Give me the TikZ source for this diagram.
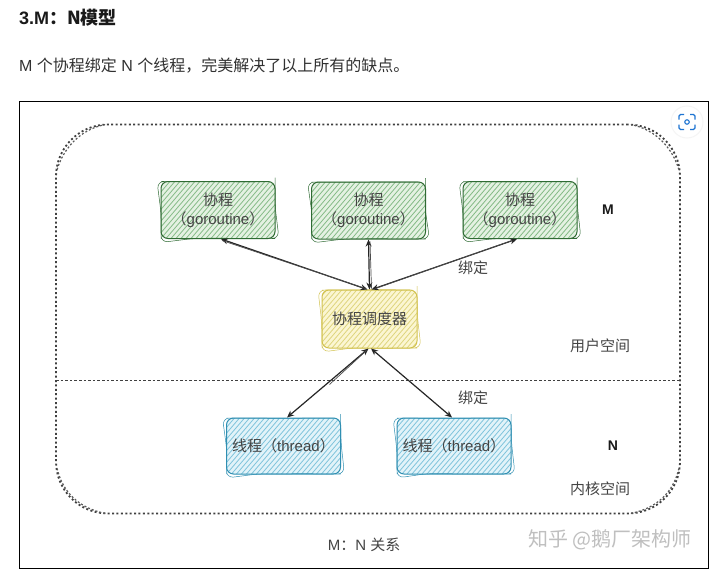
\documentclass[tikz,border=0pt]{standalone}
\usepackage{fontspec}
\setmainfont{Liberation Sans}
\newfontfamily\cjk{Noto Sans CJK SC}
\usetikzlibrary{arrows.meta,calc,decorations.pathmorphing}
\definecolor{txt}{HTML}{444444}
\definecolor{head}{HTML}{1A1A1A}
\definecolor{grnD}{HTML}{2F6B33}
\definecolor{grnF}{HTML}{E4F1E2}
\definecolor{grnH}{HTML}{84BA86}
\definecolor{yelD}{HTML}{D2C24E}
\definecolor{yelF}{HTML}{FBF6D2}
\definecolor{yelH}{HTML}{DFD57E}
\definecolor{bluD}{HTML}{2F8FB2}
\definecolor{bluF}{HTML}{E2F3F9}
\definecolor{bluH}{HTML}{80C4DC}
\definecolor{iconblue}{HTML}{1E74D2}
\tikzset{
  x=1pt,y=-1pt,
  sketchbox/.style n args={3}{
    draw=#1, fill=#2, line width=1pt, rounded corners=7pt, inner sep=0pt,
    text=txt, font=\fontsize{15}{19}\selectfont, align=center,
    path picture={
      \foreach \i in {-70,-65,...,130}
        \draw[#3,line width=.8pt]
          ([xshift=\i pt]path picture bounding box.south west) -- ++(60,-70);
    },
    postaction={draw=#1,line width=.5pt,decorate,
      decoration={random steps,segment length=24pt,amplitude=.5pt}}
  },
  greenbox/.style={sketchbox={grnD}{grnF}{grnH},minimum width=114pt,minimum height=57pt},
  bluebox/.style={sketchbox={bluD}{bluF}{bluH},minimum width=114pt,minimum height=56pt},
  yellowbox/.style={sketchbox={yelD}{yelF}{yelH},minimum width=95pt,minimum height=58pt},
  label/.style={text=txt,font=\fontsize{15}{17}\selectfont,inner sep=0pt},
  bigm/.style={text=head,font=\fontsize{14}{16}\selectfont\bfseries,inner sep=0pt},
  link/.style={<->,>={Stealth[length=7pt,width=6pt]},line width=1.2pt,draw=black!85},
  linkb/.style={line width=.7pt,draw=black!70},
  dotline/.style={line width=1.8pt,dash pattern=on 2pt off 2.4pt},
  dotthin/.style={line width=1.2pt,draw=black!65,dash pattern=on 2pt off 2pt},
}
\begin{document}
\begin{tikzpicture}
\useasboundingbox (0,0) rectangle (727,583);
\fill[white] (0,0) rectangle (727,583);

% page text
\node[anchor=west,inner sep=0pt,text=head,font=\fontsize{18}{20}\selectfont\bfseries] (title) at (19,18) {3.M{\cjk ：N模型}};
\node[anchor=west,inner sep=0pt,text=head!90,font=\fontsize{16}{20}\selectfont] (intro) at (19,66) {M {\cjk 个协程绑定} N {\cjk 个线程，完美解决了以上所有的缺点。}};

% frame
\node[draw=black,line width=1.2pt,minimum width=688.5pt,minimum height=467pt,inner sep=0pt] (frame) at (364,335) {};

% dotted outer rounded box
\node[draw=black!75,dotline,rounded corners=52pt,minimum width=624pt,minimum height=389pt,inner sep=0pt] (outer) at (368,319) {};
\draw[dotthin] ($(outer.north west)+(2,46)$) .. controls ($(outer.north west)+(8,26)$) and ($(outer.north west)+(24,6)$) .. ($(outer.north west)+(50,1)$);
\draw[dotthin] ($(outer.north east)+(-2,46)$) .. controls ($(outer.north east)+(-8,26)$) and ($(outer.north east)+(-24,6)$) .. ($(outer.north east)+(-50,1)$);
\draw[dotthin] ($(outer.south west)+(2,-46)$) .. controls ($(outer.south west)+(8,-20)$) and ($(outer.south west)+(26,-6)$) .. ($(outer.south west)+(50,-1)$);
\draw[dotthin] ($(outer.south east)+(-2,-46)$) .. controls ($(outer.south east)+(-8,-20)$) and ($(outer.south east)+(-26,-6)$) .. ($(outer.south east)+(-50,-1)$);

% divider
\coordinate (divL) at (56,380);
\coordinate (divR) at (680,380);
\draw[line width=.8pt,draw=black!75,dash pattern=on 2.6pt off 2pt] (divL) -- (divR);

% boxes
\node[greenbox] (g1) at (218,210) {{\cjk 协程}\\{\cjk （}goroutine{\cjk ）}};
\node[greenbox] (g2) at (368.5,210.5) {{\cjk 协程}\\{\cjk （}goroutine{\cjk ）}};
\node[greenbox] (g3) at (520,210) {{\cjk 协程}\\{\cjk （}goroutine{\cjk ）}};
\node[yellowbox] (sched) at (369.5,319) {\cjk 协程调度器};
\node[bluebox] (t1) at (283.5,446) {{\cjk 线程（}thread{\cjk ）}};
\node[bluebox] (t2) at (454,446) {{\cjk 线程（}thread{\cjk ）}};

% connectors
\draw[link] ([xshift=-2pt]sched.north) -- ([xshift=3pt]g1.south);
\draw[linkb] ([xshift=-4pt,yshift=1pt]sched.north) -- ([xshift=4pt,yshift=-1.5pt]g1.south);
\draw[link] (sched.north) -- (g2.south);
\draw[linkb] ([xshift=2pt,yshift=1pt]sched.north) -- ([xshift=1.5pt,yshift=-2pt]g2.south);
\draw[link] ([xshift=2pt]sched.north) -- ([xshift=-3pt]g3.south);
\draw[linkb] ([xshift=6pt,yshift=1pt]sched.north) -- ([xshift=-8pt,yshift=-1.5pt]g3.south);
\draw[link] ([xshift=-1pt]sched.south) -- ([xshift=3.5pt]t1.north);
\draw[linkb] ([xshift=-3pt,yshift=-2pt]sched.south) -- ([xshift=46pt,yshift=33pt]t1.north);
\draw[link] ([xshift=1.5pt]sched.south) -- ([xshift=-2pt]t2.north);

% labels
\node[bigm] (m) at (608,210) {M};
\node[bigm] (n) at (613,446) {N};
\node[label] (bind1) at (473,268) {\cjk 绑定};
\node[label] (bind2) at (473,398) {\cjk 绑定};
\node[label] (user) at (600,346) {\cjk 用户空间};
\node[label] (kernel) at (600,489) {\cjk 内核空间};
\node[label] (rel) at (364,545) {M{\cjk ：}N {\cjk 关系}};

% watermark
\node[inner sep=0pt,text=black!25,font=\fontsize{20}{22}\selectfont] (mark) at (610,540) {\cjk 知乎 @鹅厂架构师};

% screenshot icon
\node[circle,fill=white,draw=black!4,line width=1pt,minimum size=32pt,inner sep=0pt] (iconbg) at (687,122) {};
\node[circle,draw=iconblue,line width=1.1pt,minimum size=4.5pt,inner sep=0pt] (iconc) at (687,122) {};
\draw[iconblue,line width=1.2pt,rounded corners=1.5pt] ($(iconc)+(-8,-2.5)$) -- ($(iconc)+(-8,-7.5)$) -- ($(iconc)+(-3,-7.5)$);
\draw[iconblue,line width=1.2pt,rounded corners=1.5pt] ($(iconc)+(3,-7.5)$) -- ($(iconc)+(8,-7.5)$) -- ($(iconc)+(8,-2.5)$);
\draw[iconblue,line width=1.2pt,rounded corners=1.5pt] ($(iconc)+(-8,2.5)$) -- ($(iconc)+(-8,7.5)$) -- ($(iconc)+(-3,7.5)$);
\draw[iconblue,line width=1.2pt,rounded corners=1.5pt] ($(iconc)+(3,7.5)$) -- ($(iconc)+(8,7.5)$) -- ($(iconc)+(8,2.5)$);
\end{tikzpicture}
\end{document}
